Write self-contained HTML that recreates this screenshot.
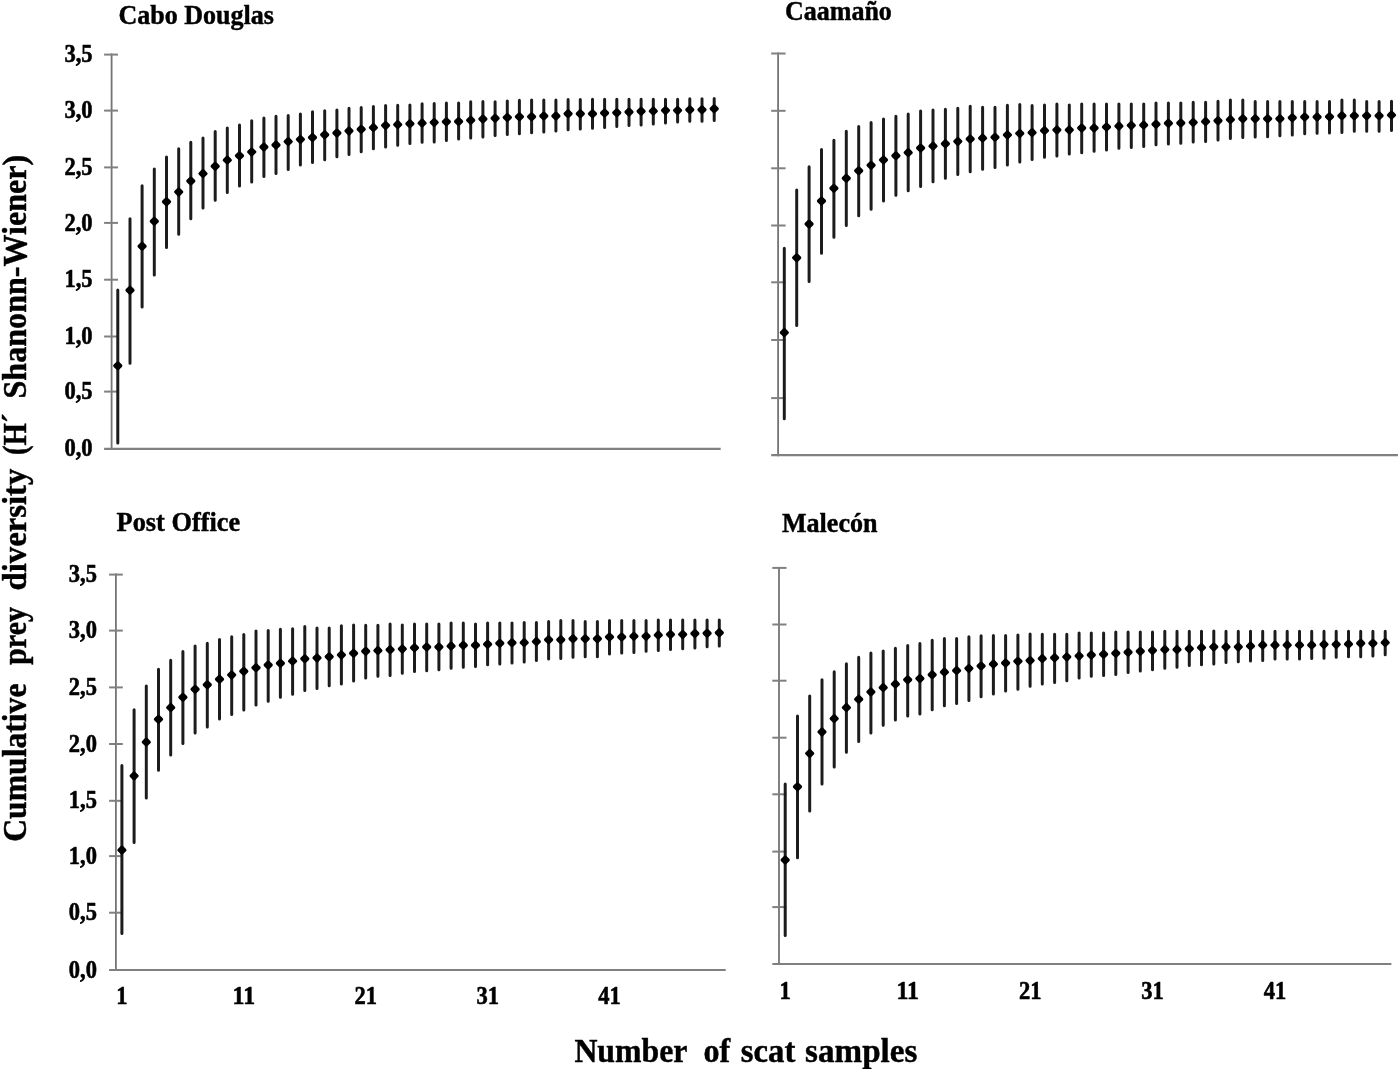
<!DOCTYPE html>
<html><head><meta charset="utf-8"><title>Cumulative prey diversity</title>
<style>
html,body{margin:0;padding:0;background:#fff;}
body{width:1400px;height:1069px;overflow:hidden;}
svg{display:block;}
text{font-family:"Liberation Serif",serif;font-weight:bold;fill:#000;stroke:#000;stroke-width:0.45px;stroke-linejoin:round;}
.tk{font-size:25.2px;stroke-width:0.6px;}
.tt{font-size:27px;}
.at{font-size:34.5px;}
</style></head><body>
<svg width="1400" height="1069" viewBox="0 0 1400 1069">
<defs><filter id="bl" x="-2%" y="-2%" width="104%" height="104%"><feGaussianBlur stdDeviation="0.55"/></filter><filter id="bt" x="-2%" y="-2%" width="104%" height="104%"><feGaussianBlur stdDeviation="0.4"/></filter></defs>
<rect x="0" y="0" width="1400" height="1069" fill="#ffffff"/>

<g filter="url(#bl)">
<line x1="111.6" y1="53.6" x2="111.6" y2="449.8" stroke="#747474" stroke-width="1.8"/>
<line x1="104.1" y1="448.8" x2="720.7" y2="448.8" stroke="#808080" stroke-width="2.2"/>
<line x1="104.1" y1="391.6" x2="118.0" y2="391.6" stroke="#808080" stroke-width="2"/>
<line x1="104.1" y1="336.5" x2="118.0" y2="336.5" stroke="#808080" stroke-width="2"/>
<line x1="104.1" y1="279.7" x2="118.0" y2="279.7" stroke="#808080" stroke-width="2"/>
<line x1="104.1" y1="222.9" x2="118.0" y2="222.9" stroke="#808080" stroke-width="2"/>
<line x1="104.1" y1="167.4" x2="118.0" y2="167.4" stroke="#808080" stroke-width="2"/>
<line x1="104.1" y1="110.6" x2="118.0" y2="110.6" stroke="#808080" stroke-width="2"/>
<line x1="104.1" y1="54.6" x2="118.0" y2="54.6" stroke="#808080" stroke-width="2"/>
<text class="tk" x="64.5" y="456.4" textLength="28.1" lengthAdjust="spacingAndGlyphs">0,0</text>
<text class="tk" x="64.5" y="399.2" textLength="28.1" lengthAdjust="spacingAndGlyphs">0,5</text>
<text class="tk" x="64.5" y="344.1" textLength="28.1" lengthAdjust="spacingAndGlyphs">1,0</text>
<text class="tk" x="64.5" y="287.3" textLength="28.1" lengthAdjust="spacingAndGlyphs">1,5</text>
<text class="tk" x="64.5" y="230.5" textLength="28.1" lengthAdjust="spacingAndGlyphs">2,0</text>
<text class="tk" x="64.5" y="175.0" textLength="28.1" lengthAdjust="spacingAndGlyphs">2,5</text>
<text class="tk" x="64.5" y="118.2" textLength="28.1" lengthAdjust="spacingAndGlyphs">3,0</text>
<text class="tk" x="64.5" y="62.2" textLength="28.1" lengthAdjust="spacingAndGlyphs">3,5</text>
<path d="M117.8 289.9V442.9M130.0 218.7V363.3M142.1 185.8V306.9M154.3 169.0V275.1M166.5 157.0V247.6M178.7 148.8V234.2M190.8 142.3V218.7M203.0 138.0V208.0M215.2 131.6V200.2M227.3 128.1V192.5M239.5 125.1V186.0M251.7 120.8V182.1M263.9 118.0V176.5M276.0 116.3V173.5M288.2 115.4V169.6M300.4 113.9V165.1M312.5 111.8V162.5M324.7 110.7V159.7M336.9 110.1V156.7M349.0 108.2V154.5M361.2 107.5V151.8M373.4 106.4V148.8M385.6 105.5V147.0M397.7 105.3V145.3M409.9 104.9V143.6M422.1 103.8V142.3M434.2 103.6V141.9M446.4 103.0V140.6M458.6 103.0V139.1M470.7 101.7V138.0M482.9 101.4V137.1M495.1 101.7V135.4M507.3 101.0V134.6M519.4 100.2V133.7M531.6 99.9V132.8M543.8 99.9V132.0M555.9 99.9V131.1M568.1 99.4V129.7M580.3 99.4V129.1M592.5 99.2V128.3M604.6 99.3V127.4M616.8 99.3V126.5M629.0 99.3V125.5M641.1 99.3V124.9M653.3 99.3V124.1M665.5 99.3V122.9M677.6 99.3V122.1M689.8 98.7V121.2M702.0 98.7V121.2M714.2 98.4V120.6" stroke="#1f1f1f" stroke-width="3" stroke-linecap="round" fill="none"/>
<path d="M114.9 365.8L117.8 363.0L120.7 365.8L117.8 368.6Z" fill="#000000" stroke="#000000" stroke-width="3.4" stroke-linejoin="round"/>
<path d="M127.1 290.2L130.0 287.4L132.9 290.2L130.0 293.0Z" fill="#000000" stroke="#000000" stroke-width="3.4" stroke-linejoin="round"/>
<path d="M139.2 246.2L142.1 243.4L145.0 246.2L142.1 249.0Z" fill="#000000" stroke="#000000" stroke-width="3.4" stroke-linejoin="round"/>
<path d="M151.4 221.2L154.3 218.4L157.2 221.2L154.3 224.0Z" fill="#000000" stroke="#000000" stroke-width="3.4" stroke-linejoin="round"/>
<path d="M163.6 201.8L166.5 199.0L169.4 201.8L166.5 204.6Z" fill="#000000" stroke="#000000" stroke-width="3.4" stroke-linejoin="round"/>
<path d="M175.8 191.9L178.7 189.1L181.6 191.9L178.7 194.7Z" fill="#000000" stroke="#000000" stroke-width="3.4" stroke-linejoin="round"/>
<path d="M187.9 181.0L190.8 178.2L193.7 181.0L190.8 183.8Z" fill="#000000" stroke="#000000" stroke-width="3.4" stroke-linejoin="round"/>
<path d="M200.1 173.6L203.0 170.8L205.9 173.6L203.0 176.4Z" fill="#000000" stroke="#000000" stroke-width="3.4" stroke-linejoin="round"/>
<path d="M212.3 166.3L215.2 163.5L218.1 166.3L215.2 169.1Z" fill="#000000" stroke="#000000" stroke-width="3.4" stroke-linejoin="round"/>
<path d="M224.4 160.1L227.3 157.3L230.2 160.1L227.3 162.9Z" fill="#000000" stroke="#000000" stroke-width="3.4" stroke-linejoin="round"/>
<path d="M236.6 155.8L239.5 153.0L242.4 155.8L239.5 158.6Z" fill="#000000" stroke="#000000" stroke-width="3.4" stroke-linejoin="round"/>
<path d="M248.8 151.9L251.7 149.1L254.6 151.9L251.7 154.7Z" fill="#000000" stroke="#000000" stroke-width="3.4" stroke-linejoin="round"/>
<path d="M261.0 147.0L263.9 144.2L266.8 147.0L263.9 149.8Z" fill="#000000" stroke="#000000" stroke-width="3.4" stroke-linejoin="round"/>
<path d="M273.1 145.0L276.0 142.2L278.9 145.0L276.0 147.8Z" fill="#000000" stroke="#000000" stroke-width="3.4" stroke-linejoin="round"/>
<path d="M285.3 141.6L288.2 138.8L291.1 141.6L288.2 144.4Z" fill="#000000" stroke="#000000" stroke-width="3.4" stroke-linejoin="round"/>
<path d="M297.5 139.4L300.4 136.6L303.3 139.4L300.4 142.2Z" fill="#000000" stroke="#000000" stroke-width="3.4" stroke-linejoin="round"/>
<path d="M309.6 137.5L312.5 134.7L315.4 137.5L312.5 140.3Z" fill="#000000" stroke="#000000" stroke-width="3.4" stroke-linejoin="round"/>
<path d="M321.8 134.7L324.7 131.9L327.6 134.7L324.7 137.5Z" fill="#000000" stroke="#000000" stroke-width="3.4" stroke-linejoin="round"/>
<path d="M334.0 133.0L336.9 130.2L339.8 133.0L336.9 135.8Z" fill="#000000" stroke="#000000" stroke-width="3.4" stroke-linejoin="round"/>
<path d="M346.1 130.9L349.0 128.1L351.9 130.9L349.0 133.7Z" fill="#000000" stroke="#000000" stroke-width="3.4" stroke-linejoin="round"/>
<path d="M358.3 129.3L361.2 126.5L364.1 129.3L361.2 132.1Z" fill="#000000" stroke="#000000" stroke-width="3.4" stroke-linejoin="round"/>
<path d="M370.5 127.6L373.4 124.8L376.3 127.6L373.4 130.4Z" fill="#000000" stroke="#000000" stroke-width="3.4" stroke-linejoin="round"/>
<path d="M382.7 125.4L385.6 122.6L388.5 125.4L385.6 128.2Z" fill="#000000" stroke="#000000" stroke-width="3.4" stroke-linejoin="round"/>
<path d="M394.8 124.6L397.7 121.8L400.6 124.6L397.7 127.4Z" fill="#000000" stroke="#000000" stroke-width="3.4" stroke-linejoin="round"/>
<path d="M407.0 123.7L409.9 120.9L412.8 123.7L409.9 126.5Z" fill="#000000" stroke="#000000" stroke-width="3.4" stroke-linejoin="round"/>
<path d="M419.2 123.1L422.1 120.3L425.0 123.1L422.1 125.9Z" fill="#000000" stroke="#000000" stroke-width="3.4" stroke-linejoin="round"/>
<path d="M431.3 122.4L434.2 119.6L437.1 122.4L434.2 125.2Z" fill="#000000" stroke="#000000" stroke-width="3.4" stroke-linejoin="round"/>
<path d="M443.5 121.8L446.4 119.0L449.3 121.8L446.4 124.6Z" fill="#000000" stroke="#000000" stroke-width="3.4" stroke-linejoin="round"/>
<path d="M455.7 121.5L458.6 118.7L461.5 121.5L458.6 124.3Z" fill="#000000" stroke="#000000" stroke-width="3.4" stroke-linejoin="round"/>
<path d="M467.8 120.3L470.7 117.5L473.6 120.3L470.7 123.1Z" fill="#000000" stroke="#000000" stroke-width="3.4" stroke-linejoin="round"/>
<path d="M480.0 119.0L482.9 116.2L485.8 119.0L482.9 121.8Z" fill="#000000" stroke="#000000" stroke-width="3.4" stroke-linejoin="round"/>
<path d="M492.2 118.3L495.1 115.5L498.0 118.3L495.1 121.1Z" fill="#000000" stroke="#000000" stroke-width="3.4" stroke-linejoin="round"/>
<path d="M504.4 117.5L507.3 114.7L510.2 117.5L507.3 120.3Z" fill="#000000" stroke="#000000" stroke-width="3.4" stroke-linejoin="round"/>
<path d="M516.5 116.8L519.4 114.0L522.3 116.8L519.4 119.6Z" fill="#000000" stroke="#000000" stroke-width="3.4" stroke-linejoin="round"/>
<path d="M528.7 116.8L531.6 114.0L534.5 116.8L531.6 119.6Z" fill="#000000" stroke="#000000" stroke-width="3.4" stroke-linejoin="round"/>
<path d="M540.9 116.0L543.8 113.2L546.7 116.0L543.8 118.8Z" fill="#000000" stroke="#000000" stroke-width="3.4" stroke-linejoin="round"/>
<path d="M553.0 116.0L555.9 113.2L558.8 116.0L555.9 118.8Z" fill="#000000" stroke="#000000" stroke-width="3.4" stroke-linejoin="round"/>
<path d="M565.2 113.7L568.1 110.9L571.0 113.7L568.1 116.5Z" fill="#000000" stroke="#000000" stroke-width="3.4" stroke-linejoin="round"/>
<path d="M577.4 113.7L580.3 110.9L583.2 113.7L580.3 116.5Z" fill="#000000" stroke="#000000" stroke-width="3.4" stroke-linejoin="round"/>
<path d="M589.6 113.7L592.5 110.9L595.4 113.7L592.5 116.5Z" fill="#000000" stroke="#000000" stroke-width="3.4" stroke-linejoin="round"/>
<path d="M601.7 113.0L604.6 110.2L607.5 113.0L604.6 115.8Z" fill="#000000" stroke="#000000" stroke-width="3.4" stroke-linejoin="round"/>
<path d="M613.9 112.8L616.8 110.0L619.7 112.8L616.8 115.6Z" fill="#000000" stroke="#000000" stroke-width="3.4" stroke-linejoin="round"/>
<path d="M626.1 112.0L629.0 109.2L631.9 112.0L629.0 114.8Z" fill="#000000" stroke="#000000" stroke-width="3.4" stroke-linejoin="round"/>
<path d="M638.2 111.3L641.1 108.5L644.0 111.3L641.1 114.1Z" fill="#000000" stroke="#000000" stroke-width="3.4" stroke-linejoin="round"/>
<path d="M650.4 111.1L653.3 108.3L656.2 111.1L653.3 113.9Z" fill="#000000" stroke="#000000" stroke-width="3.4" stroke-linejoin="round"/>
<path d="M662.6 110.4L665.5 107.6L668.4 110.4L665.5 113.2Z" fill="#000000" stroke="#000000" stroke-width="3.4" stroke-linejoin="round"/>
<path d="M674.7 110.4L677.6 107.6L680.5 110.4L677.6 113.2Z" fill="#000000" stroke="#000000" stroke-width="3.4" stroke-linejoin="round"/>
<path d="M686.9 109.7L689.8 106.9L692.7 109.7L689.8 112.5Z" fill="#000000" stroke="#000000" stroke-width="3.4" stroke-linejoin="round"/>
<path d="M699.1 109.7L702.0 106.9L704.9 109.7L702.0 112.5Z" fill="#000000" stroke="#000000" stroke-width="3.4" stroke-linejoin="round"/>
<path d="M711.3 108.8L714.2 106.0L717.1 108.8L714.2 111.6Z" fill="#000000" stroke="#000000" stroke-width="3.4" stroke-linejoin="round"/>
</g>
<g filter="url(#bl)">
<line x1="778.1" y1="52.5" x2="778.1" y2="456.2" stroke="#747474" stroke-width="1.8"/>
<line x1="771.2" y1="455.2" x2="1397.9" y2="455.2" stroke="#808080" stroke-width="2.2"/>
<line x1="771.2" y1="398.1" x2="785.6" y2="398.1" stroke="#808080" stroke-width="2"/>
<line x1="771.2" y1="340.0" x2="785.6" y2="340.0" stroke="#808080" stroke-width="2"/>
<line x1="771.2" y1="282.3" x2="785.6" y2="282.3" stroke="#808080" stroke-width="2"/>
<line x1="771.2" y1="225.5" x2="785.6" y2="225.5" stroke="#808080" stroke-width="2"/>
<line x1="771.2" y1="168.3" x2="785.6" y2="168.3" stroke="#808080" stroke-width="2"/>
<line x1="771.2" y1="110.8" x2="785.6" y2="110.8" stroke="#808080" stroke-width="2"/>
<line x1="771.2" y1="53.5" x2="785.6" y2="53.5" stroke="#808080" stroke-width="2"/>
<path d="M784.3 248.2V418.8M796.7 190.1V325.4M809.1 166.7V281.5M821.5 149.4V253.3M833.9 140.2V237.2M846.3 131.2V225.6M858.7 126.6V215.7M871.1 122.5V209.2M883.5 119.1V200.9M895.9 116.3V195.3M908.2 113.9V190.7M920.6 110.9V186.4M933.0 109.9V181.7M945.4 109.2V178.3M957.8 108.3V174.4M970.2 106.2V171.8M982.6 107.3V169.2M995.0 107.3V167.5M1007.4 105.3V164.9M1019.8 104.5V161.9M1032.1 105.6V159.6M1044.5 104.9V157.3M1056.9 103.9V155.9M1069.3 104.9V154.0M1081.7 103.9V152.7M1094.1 103.9V151.3M1106.5 103.9V150.1M1118.9 103.9V148.3M1131.3 103.9V147.6M1143.7 103.9V146.4M1156.0 103.1V144.7M1168.4 103.1V144.0M1180.8 103.1V143.3M1193.2 102.3V142.1M1205.6 102.3V141.5M1218.0 101.3V139.9M1230.4 100.1V138.4M1242.8 99.9V137.5M1255.2 101.6V137.0M1267.6 101.6V136.7M1279.9 101.6V135.8M1292.3 101.6V135.0M1304.7 101.6V133.8M1317.1 101.6V133.2M1329.5 101.6V133.0M1341.9 100.1V132.4M1354.3 99.9V131.2M1366.7 101.6V131.2M1379.1 101.6V131.2M1391.5 101.3V130.4" stroke="#1f1f1f" stroke-width="3" stroke-linecap="round" fill="none"/>
<path d="M781.4 332.6L784.3 329.8L787.2 332.6L784.3 335.4Z" fill="#000000" stroke="#000000" stroke-width="3.4" stroke-linejoin="round"/>
<path d="M793.8 257.8L796.7 255.0L799.6 257.8L796.7 260.6Z" fill="#000000" stroke="#000000" stroke-width="3.4" stroke-linejoin="round"/>
<path d="M806.2 224.0L809.1 221.2L812.0 224.0L809.1 226.8Z" fill="#000000" stroke="#000000" stroke-width="3.4" stroke-linejoin="round"/>
<path d="M818.6 201.0L821.5 198.2L824.4 201.0L821.5 203.8Z" fill="#000000" stroke="#000000" stroke-width="3.4" stroke-linejoin="round"/>
<path d="M831.0 188.3L833.9 185.5L836.8 188.3L833.9 191.1Z" fill="#000000" stroke="#000000" stroke-width="3.4" stroke-linejoin="round"/>
<path d="M843.4 178.2L846.3 175.4L849.2 178.2L846.3 181.0Z" fill="#000000" stroke="#000000" stroke-width="3.4" stroke-linejoin="round"/>
<path d="M855.8 170.8L858.7 168.0L861.6 170.8L858.7 173.6Z" fill="#000000" stroke="#000000" stroke-width="3.4" stroke-linejoin="round"/>
<path d="M868.2 165.3L871.1 162.5L874.0 165.3L871.1 168.1Z" fill="#000000" stroke="#000000" stroke-width="3.4" stroke-linejoin="round"/>
<path d="M880.6 159.9L883.5 157.1L886.4 159.9L883.5 162.7Z" fill="#000000" stroke="#000000" stroke-width="3.4" stroke-linejoin="round"/>
<path d="M893.0 155.8L895.9 153.0L898.8 155.8L895.9 158.6Z" fill="#000000" stroke="#000000" stroke-width="3.4" stroke-linejoin="round"/>
<path d="M905.3 152.6L908.2 149.8L911.1 152.6L908.2 155.4Z" fill="#000000" stroke="#000000" stroke-width="3.4" stroke-linejoin="round"/>
<path d="M917.7 148.0L920.6 145.2L923.5 148.0L920.6 150.8Z" fill="#000000" stroke="#000000" stroke-width="3.4" stroke-linejoin="round"/>
<path d="M930.1 146.1L933.0 143.3L935.9 146.1L933.0 148.9Z" fill="#000000" stroke="#000000" stroke-width="3.4" stroke-linejoin="round"/>
<path d="M942.5 143.7L945.4 140.9L948.3 143.7L945.4 146.5Z" fill="#000000" stroke="#000000" stroke-width="3.4" stroke-linejoin="round"/>
<path d="M954.9 141.4L957.8 138.6L960.7 141.4L957.8 144.2Z" fill="#000000" stroke="#000000" stroke-width="3.4" stroke-linejoin="round"/>
<path d="M967.3 139.0L970.2 136.2L973.1 139.0L970.2 141.8Z" fill="#000000" stroke="#000000" stroke-width="3.4" stroke-linejoin="round"/>
<path d="M979.7 138.1L982.6 135.3L985.5 138.1L982.6 140.9Z" fill="#000000" stroke="#000000" stroke-width="3.4" stroke-linejoin="round"/>
<path d="M992.1 137.3L995.0 134.5L997.9 137.3L995.0 140.1Z" fill="#000000" stroke="#000000" stroke-width="3.4" stroke-linejoin="round"/>
<path d="M1004.5 134.9L1007.4 132.1L1010.3 134.9L1007.4 137.7Z" fill="#000000" stroke="#000000" stroke-width="3.4" stroke-linejoin="round"/>
<path d="M1016.9 133.4L1019.8 130.6L1022.7 133.4L1019.8 136.2Z" fill="#000000" stroke="#000000" stroke-width="3.4" stroke-linejoin="round"/>
<path d="M1029.2 132.6L1032.1 129.8L1035.0 132.6L1032.1 135.4Z" fill="#000000" stroke="#000000" stroke-width="3.4" stroke-linejoin="round"/>
<path d="M1041.6 130.6L1044.5 127.8L1047.4 130.6L1044.5 133.4Z" fill="#000000" stroke="#000000" stroke-width="3.4" stroke-linejoin="round"/>
<path d="M1054.0 129.9L1056.9 127.1L1059.8 129.9L1056.9 132.7Z" fill="#000000" stroke="#000000" stroke-width="3.4" stroke-linejoin="round"/>
<path d="M1066.4 129.9L1069.3 127.1L1072.2 129.9L1069.3 132.7Z" fill="#000000" stroke="#000000" stroke-width="3.4" stroke-linejoin="round"/>
<path d="M1078.8 128.0L1081.7 125.2L1084.6 128.0L1081.7 130.8Z" fill="#000000" stroke="#000000" stroke-width="3.4" stroke-linejoin="round"/>
<path d="M1091.2 128.0L1094.1 125.2L1097.0 128.0L1094.1 130.8Z" fill="#000000" stroke="#000000" stroke-width="3.4" stroke-linejoin="round"/>
<path d="M1103.6 127.0L1106.5 124.2L1109.4 127.0L1106.5 129.8Z" fill="#000000" stroke="#000000" stroke-width="3.4" stroke-linejoin="round"/>
<path d="M1116.0 126.1L1118.9 123.3L1121.8 126.1L1118.9 128.9Z" fill="#000000" stroke="#000000" stroke-width="3.4" stroke-linejoin="round"/>
<path d="M1128.4 125.4L1131.3 122.6L1134.2 125.4L1131.3 128.2Z" fill="#000000" stroke="#000000" stroke-width="3.4" stroke-linejoin="round"/>
<path d="M1140.8 125.1L1143.7 122.3L1146.6 125.1L1143.7 127.9Z" fill="#000000" stroke="#000000" stroke-width="3.4" stroke-linejoin="round"/>
<path d="M1153.1 124.3L1156.0 121.5L1158.9 124.3L1156.0 127.1Z" fill="#000000" stroke="#000000" stroke-width="3.4" stroke-linejoin="round"/>
<path d="M1165.5 123.3L1168.4 120.5L1171.3 123.3L1168.4 126.1Z" fill="#000000" stroke="#000000" stroke-width="3.4" stroke-linejoin="round"/>
<path d="M1177.9 123.0L1180.8 120.2L1183.7 123.0L1180.8 125.8Z" fill="#000000" stroke="#000000" stroke-width="3.4" stroke-linejoin="round"/>
<path d="M1190.3 122.4L1193.2 119.6L1196.1 122.4L1193.2 125.2Z" fill="#000000" stroke="#000000" stroke-width="3.4" stroke-linejoin="round"/>
<path d="M1202.7 121.6L1205.6 118.8L1208.5 121.6L1205.6 124.4Z" fill="#000000" stroke="#000000" stroke-width="3.4" stroke-linejoin="round"/>
<path d="M1215.1 120.8L1218.0 118.0L1220.9 120.8L1218.0 123.6Z" fill="#000000" stroke="#000000" stroke-width="3.4" stroke-linejoin="round"/>
<path d="M1227.5 119.6L1230.4 116.8L1233.3 119.6L1230.4 122.4Z" fill="#000000" stroke="#000000" stroke-width="3.4" stroke-linejoin="round"/>
<path d="M1239.9 118.7L1242.8 115.9L1245.7 118.7L1242.8 121.5Z" fill="#000000" stroke="#000000" stroke-width="3.4" stroke-linejoin="round"/>
<path d="M1252.3 118.7L1255.2 115.9L1258.1 118.7L1255.2 121.5Z" fill="#000000" stroke="#000000" stroke-width="3.4" stroke-linejoin="round"/>
<path d="M1264.7 118.7L1267.6 115.9L1270.5 118.7L1267.6 121.5Z" fill="#000000" stroke="#000000" stroke-width="3.4" stroke-linejoin="round"/>
<path d="M1277.0 118.7L1279.9 115.9L1282.8 118.7L1279.9 121.5Z" fill="#000000" stroke="#000000" stroke-width="3.4" stroke-linejoin="round"/>
<path d="M1289.4 117.8L1292.3 115.0L1295.2 117.8L1292.3 120.6Z" fill="#000000" stroke="#000000" stroke-width="3.4" stroke-linejoin="round"/>
<path d="M1301.8 117.0L1304.7 114.2L1307.6 117.0L1304.7 119.8Z" fill="#000000" stroke="#000000" stroke-width="3.4" stroke-linejoin="round"/>
<path d="M1314.2 117.0L1317.1 114.2L1320.0 117.0L1317.1 119.8Z" fill="#000000" stroke="#000000" stroke-width="3.4" stroke-linejoin="round"/>
<path d="M1326.6 116.8L1329.5 114.0L1332.4 116.8L1329.5 119.6Z" fill="#000000" stroke="#000000" stroke-width="3.4" stroke-linejoin="round"/>
<path d="M1339.0 115.8L1341.9 113.0L1344.8 115.8L1341.9 118.6Z" fill="#000000" stroke="#000000" stroke-width="3.4" stroke-linejoin="round"/>
<path d="M1351.4 115.8L1354.3 113.0L1357.2 115.8L1354.3 118.6Z" fill="#000000" stroke="#000000" stroke-width="3.4" stroke-linejoin="round"/>
<path d="M1363.8 115.8L1366.7 113.0L1369.6 115.8L1366.7 118.6Z" fill="#000000" stroke="#000000" stroke-width="3.4" stroke-linejoin="round"/>
<path d="M1376.2 115.8L1379.1 113.0L1382.0 115.8L1379.1 118.6Z" fill="#000000" stroke="#000000" stroke-width="3.4" stroke-linejoin="round"/>
<path d="M1388.6 115.1L1391.5 112.3L1394.4 115.1L1391.5 117.9Z" fill="#000000" stroke="#000000" stroke-width="3.4" stroke-linejoin="round"/>
</g>
<g filter="url(#bl)">
<line x1="115.9" y1="573.6" x2="115.9" y2="971.0" stroke="#747474" stroke-width="1.8"/>
<line x1="109.1" y1="970.0" x2="725.7" y2="970.0" stroke="#808080" stroke-width="2.2"/>
<line x1="109.1" y1="912.7" x2="122.8" y2="912.7" stroke="#808080" stroke-width="2"/>
<line x1="109.1" y1="856.1" x2="122.8" y2="856.1" stroke="#808080" stroke-width="2"/>
<line x1="109.1" y1="800.8" x2="122.8" y2="800.8" stroke="#808080" stroke-width="2"/>
<line x1="109.1" y1="744.0" x2="122.8" y2="744.0" stroke="#808080" stroke-width="2"/>
<line x1="109.1" y1="687.4" x2="122.8" y2="687.4" stroke="#808080" stroke-width="2"/>
<line x1="109.1" y1="630.6" x2="122.8" y2="630.6" stroke="#808080" stroke-width="2"/>
<line x1="109.1" y1="574.6" x2="122.8" y2="574.6" stroke="#808080" stroke-width="2"/>
<text class="tk" x="68.8" y="977.6" textLength="28.1" lengthAdjust="spacingAndGlyphs">0,0</text>
<text class="tk" x="68.8" y="920.3" textLength="28.1" lengthAdjust="spacingAndGlyphs">0,5</text>
<text class="tk" x="68.8" y="863.7" textLength="28.1" lengthAdjust="spacingAndGlyphs">1,0</text>
<text class="tk" x="68.8" y="808.4" textLength="28.1" lengthAdjust="spacingAndGlyphs">1,5</text>
<text class="tk" x="68.8" y="751.6" textLength="28.1" lengthAdjust="spacingAndGlyphs">2,0</text>
<text class="tk" x="68.8" y="695.0" textLength="28.1" lengthAdjust="spacingAndGlyphs">2,5</text>
<text class="tk" x="68.8" y="638.2" textLength="28.1" lengthAdjust="spacingAndGlyphs">3,0</text>
<text class="tk" x="68.8" y="582.2" textLength="28.1" lengthAdjust="spacingAndGlyphs">3,5</text>
<text class="tk" x="116.3" y="1003.8" textLength="11.25" lengthAdjust="spacingAndGlyphs">1</text>
<text class="tk" x="232.6" y="1003.8" textLength="22.5" lengthAdjust="spacingAndGlyphs">11</text>
<text class="tk" x="354.5" y="1003.8" textLength="22.5" lengthAdjust="spacingAndGlyphs">21</text>
<text class="tk" x="476.4" y="1003.8" textLength="22.5" lengthAdjust="spacingAndGlyphs">31</text>
<text class="tk" x="598.3" y="1003.8" textLength="22.5" lengthAdjust="spacingAndGlyphs">41</text>
<path d="M121.9 765.6V933.4M134.1 709.7V842.4M146.3 686.0V797.9M158.5 669.2V770.3M170.7 660.2V755.1M182.9 651.6V743.4M195.1 646.0V733.1M207.3 643.2V727.1M219.5 639.5V719.1M231.7 636.7V714.4M243.8 634.4V710.1M256.0 631.1V705.1M268.2 630.5V701.3M280.4 629.2V697.2M292.6 628.8V694.2M304.8 626.6V690.5M317.0 627.9V688.6M329.2 627.9V685.8M341.4 625.8V684.1M353.6 625.1V681.1M365.7 625.3V677.9M377.9 625.3V676.2M390.1 624.1V675.4M402.3 624.9V673.3M414.5 624.1V671.6M426.7 624.1V670.7M438.9 624.1V669.7M451.1 623.0V668.3M463.3 623.0V667.3M475.5 624.1V666.4M487.6 623.0V664.7M499.8 623.0V664.0M512.0 623.0V663.0M524.2 622.4V662.1M536.4 622.6V660.4M548.6 621.6V659.0M560.8 620.6V658.4M573.0 620.6V657.3M585.2 621.6V656.7M597.4 621.6V656.7M609.5 620.6V654.0M621.7 620.6V653.0M633.9 620.6V652.4M646.1 620.6V651.2M658.3 619.9V650.4M670.5 619.9V649.4M682.7 619.9V648.7M694.9 619.9V648.1M707.1 619.9V646.8M719.3 619.9V646.1" stroke="#1f1f1f" stroke-width="3" stroke-linecap="round" fill="none"/>
<path d="M119.0 850.1L121.9 847.3L124.8 850.1L121.9 852.9Z" fill="#000000" stroke="#000000" stroke-width="3.4" stroke-linejoin="round"/>
<path d="M131.2 775.9L134.1 773.1L137.0 775.9L134.1 778.7Z" fill="#000000" stroke="#000000" stroke-width="3.4" stroke-linejoin="round"/>
<path d="M143.4 742.1L146.3 739.3L149.2 742.1L146.3 744.9Z" fill="#000000" stroke="#000000" stroke-width="3.4" stroke-linejoin="round"/>
<path d="M155.6 719.3L158.5 716.5L161.4 719.3L158.5 722.1Z" fill="#000000" stroke="#000000" stroke-width="3.4" stroke-linejoin="round"/>
<path d="M167.8 707.6L170.7 704.8L173.6 707.6L170.7 710.4Z" fill="#000000" stroke="#000000" stroke-width="3.4" stroke-linejoin="round"/>
<path d="M180.0 697.3L182.9 694.5L185.8 697.3L182.9 700.1Z" fill="#000000" stroke="#000000" stroke-width="3.4" stroke-linejoin="round"/>
<path d="M192.2 689.3L195.1 686.5L198.0 689.3L195.1 692.1Z" fill="#000000" stroke="#000000" stroke-width="3.4" stroke-linejoin="round"/>
<path d="M204.4 684.8L207.3 682.0L210.2 684.8L207.3 687.6Z" fill="#000000" stroke="#000000" stroke-width="3.4" stroke-linejoin="round"/>
<path d="M216.6 679.2L219.5 676.4L222.4 679.2L219.5 682.0Z" fill="#000000" stroke="#000000" stroke-width="3.4" stroke-linejoin="round"/>
<path d="M228.8 674.9L231.7 672.1L234.6 674.9L231.7 677.7Z" fill="#000000" stroke="#000000" stroke-width="3.4" stroke-linejoin="round"/>
<path d="M240.9 671.3L243.8 668.5L246.7 671.3L243.8 674.1Z" fill="#000000" stroke="#000000" stroke-width="3.4" stroke-linejoin="round"/>
<path d="M253.1 667.8L256.0 665.0L258.9 667.8L256.0 670.6Z" fill="#000000" stroke="#000000" stroke-width="3.4" stroke-linejoin="round"/>
<path d="M265.3 665.0L268.2 662.2L271.1 665.0L268.2 667.8Z" fill="#000000" stroke="#000000" stroke-width="3.4" stroke-linejoin="round"/>
<path d="M277.5 663.3L280.4 660.5L283.3 663.3L280.4 666.1Z" fill="#000000" stroke="#000000" stroke-width="3.4" stroke-linejoin="round"/>
<path d="M289.7 661.1L292.6 658.3L295.5 661.1L292.6 663.9Z" fill="#000000" stroke="#000000" stroke-width="3.4" stroke-linejoin="round"/>
<path d="M301.9 658.8L304.8 656.0L307.7 658.8L304.8 661.6Z" fill="#000000" stroke="#000000" stroke-width="3.4" stroke-linejoin="round"/>
<path d="M314.1 657.9L317.0 655.1L319.9 657.9L317.0 660.7Z" fill="#000000" stroke="#000000" stroke-width="3.4" stroke-linejoin="round"/>
<path d="M326.3 656.8L329.2 654.0L332.1 656.8L329.2 659.6Z" fill="#000000" stroke="#000000" stroke-width="3.4" stroke-linejoin="round"/>
<path d="M338.5 654.9L341.4 652.1L344.3 654.9L341.4 657.7Z" fill="#000000" stroke="#000000" stroke-width="3.4" stroke-linejoin="round"/>
<path d="M350.7 653.2L353.6 650.4L356.5 653.2L353.6 656.0Z" fill="#000000" stroke="#000000" stroke-width="3.4" stroke-linejoin="round"/>
<path d="M362.8 651.3L365.7 648.5L368.6 651.3L365.7 654.1Z" fill="#000000" stroke="#000000" stroke-width="3.4" stroke-linejoin="round"/>
<path d="M375.0 650.6L377.9 647.8L380.8 650.6L377.9 653.4Z" fill="#000000" stroke="#000000" stroke-width="3.4" stroke-linejoin="round"/>
<path d="M387.2 649.7L390.1 646.9L393.0 649.7L390.1 652.5Z" fill="#000000" stroke="#000000" stroke-width="3.4" stroke-linejoin="round"/>
<path d="M399.4 648.9L402.3 646.1L405.2 648.9L402.3 651.7Z" fill="#000000" stroke="#000000" stroke-width="3.4" stroke-linejoin="round"/>
<path d="M411.6 647.7L414.5 644.9L417.4 647.7L414.5 650.5Z" fill="#000000" stroke="#000000" stroke-width="3.4" stroke-linejoin="round"/>
<path d="M423.8 647.0L426.7 644.2L429.6 647.0L426.7 649.8Z" fill="#000000" stroke="#000000" stroke-width="3.4" stroke-linejoin="round"/>
<path d="M436.0 647.0L438.9 644.2L441.8 647.0L438.9 649.8Z" fill="#000000" stroke="#000000" stroke-width="3.4" stroke-linejoin="round"/>
<path d="M448.2 646.1L451.1 643.3L454.0 646.1L451.1 648.9Z" fill="#000000" stroke="#000000" stroke-width="3.4" stroke-linejoin="round"/>
<path d="M460.4 645.3L463.3 642.5L466.2 645.3L463.3 648.1Z" fill="#000000" stroke="#000000" stroke-width="3.4" stroke-linejoin="round"/>
<path d="M472.6 645.3L475.5 642.5L478.4 645.3L475.5 648.1Z" fill="#000000" stroke="#000000" stroke-width="3.4" stroke-linejoin="round"/>
<path d="M484.7 644.3L487.6 641.5L490.5 644.3L487.6 647.1Z" fill="#000000" stroke="#000000" stroke-width="3.4" stroke-linejoin="round"/>
<path d="M496.9 643.3L499.8 640.5L502.7 643.3L499.8 646.1Z" fill="#000000" stroke="#000000" stroke-width="3.4" stroke-linejoin="round"/>
<path d="M509.1 642.7L512.0 639.9L514.9 642.7L512.0 645.5Z" fill="#000000" stroke="#000000" stroke-width="3.4" stroke-linejoin="round"/>
<path d="M521.3 642.6L524.2 639.8L527.1 642.6L524.2 645.4Z" fill="#000000" stroke="#000000" stroke-width="3.4" stroke-linejoin="round"/>
<path d="M533.5 641.6L536.4 638.8L539.3 641.6L536.4 644.4Z" fill="#000000" stroke="#000000" stroke-width="3.4" stroke-linejoin="round"/>
<path d="M545.7 639.7L548.6 636.9L551.5 639.7L548.6 642.5Z" fill="#000000" stroke="#000000" stroke-width="3.4" stroke-linejoin="round"/>
<path d="M557.9 639.7L560.8 636.9L563.7 639.7L560.8 642.5Z" fill="#000000" stroke="#000000" stroke-width="3.4" stroke-linejoin="round"/>
<path d="M570.1 638.8L573.0 636.0L575.9 638.8L573.0 641.6Z" fill="#000000" stroke="#000000" stroke-width="3.4" stroke-linejoin="round"/>
<path d="M582.3 638.8L585.2 636.0L588.1 638.8L585.2 641.6Z" fill="#000000" stroke="#000000" stroke-width="3.4" stroke-linejoin="round"/>
<path d="M594.5 638.8L597.4 636.0L600.3 638.8L597.4 641.6Z" fill="#000000" stroke="#000000" stroke-width="3.4" stroke-linejoin="round"/>
<path d="M606.6 637.0L609.5 634.2L612.4 637.0L609.5 639.8Z" fill="#000000" stroke="#000000" stroke-width="3.4" stroke-linejoin="round"/>
<path d="M618.8 637.0L621.7 634.2L624.6 637.0L621.7 639.8Z" fill="#000000" stroke="#000000" stroke-width="3.4" stroke-linejoin="round"/>
<path d="M631.0 636.3L633.9 633.5L636.8 636.3L633.9 639.1Z" fill="#000000" stroke="#000000" stroke-width="3.4" stroke-linejoin="round"/>
<path d="M643.2 636.3L646.1 633.5L649.0 636.3L646.1 639.1Z" fill="#000000" stroke="#000000" stroke-width="3.4" stroke-linejoin="round"/>
<path d="M655.4 635.1L658.3 632.3L661.2 635.1L658.3 637.9Z" fill="#000000" stroke="#000000" stroke-width="3.4" stroke-linejoin="round"/>
<path d="M667.6 634.4L670.5 631.6L673.4 634.4L670.5 637.2Z" fill="#000000" stroke="#000000" stroke-width="3.4" stroke-linejoin="round"/>
<path d="M679.8 634.4L682.7 631.6L685.6 634.4L682.7 637.2Z" fill="#000000" stroke="#000000" stroke-width="3.4" stroke-linejoin="round"/>
<path d="M692.0 633.5L694.9 630.7L697.8 633.5L694.9 636.3Z" fill="#000000" stroke="#000000" stroke-width="3.4" stroke-linejoin="round"/>
<path d="M704.2 633.3L707.1 630.5L710.0 633.3L707.1 636.1Z" fill="#000000" stroke="#000000" stroke-width="3.4" stroke-linejoin="round"/>
<path d="M716.4 632.7L719.3 629.9L722.2 632.7L719.3 635.5Z" fill="#000000" stroke="#000000" stroke-width="3.4" stroke-linejoin="round"/>
</g>
<g filter="url(#bl)">
<line x1="779.0" y1="566.9" x2="779.0" y2="965.0" stroke="#747474" stroke-width="1.8"/>
<line x1="772.3" y1="964.0" x2="1391.4" y2="964.0" stroke="#808080" stroke-width="2.2"/>
<line x1="772.3" y1="907.1" x2="786.5" y2="907.1" stroke="#808080" stroke-width="2"/>
<line x1="772.3" y1="851.6" x2="786.5" y2="851.6" stroke="#808080" stroke-width="2"/>
<line x1="772.3" y1="794.3" x2="786.5" y2="794.3" stroke="#808080" stroke-width="2"/>
<line x1="772.3" y1="737.7" x2="786.5" y2="737.7" stroke="#808080" stroke-width="2"/>
<line x1="772.3" y1="680.7" x2="786.5" y2="680.7" stroke="#808080" stroke-width="2"/>
<line x1="772.3" y1="624.5" x2="786.5" y2="624.5" stroke="#808080" stroke-width="2"/>
<line x1="772.3" y1="567.9" x2="786.5" y2="567.9" stroke="#808080" stroke-width="2"/>
<text class="tk" x="779.6" y="998.8" textLength="11.25" lengthAdjust="spacingAndGlyphs">1</text>
<text class="tk" x="896.4" y="998.8" textLength="22.5" lengthAdjust="spacingAndGlyphs">11</text>
<text class="tk" x="1018.9" y="998.8" textLength="22.5" lengthAdjust="spacingAndGlyphs">21</text>
<text class="tk" x="1141.3" y="998.8" textLength="22.5" lengthAdjust="spacingAndGlyphs">31</text>
<text class="tk" x="1263.7" y="998.8" textLength="22.5" lengthAdjust="spacingAndGlyphs">41</text>
<path d="M785.2 784.1V935.6M797.5 715.9V857.7M809.7 696.1V811.0M822.0 679.7V783.9M834.2 671.8V766.9M846.4 663.8V752.2M858.7 657.3V741.5M870.9 653.0V732.9M883.2 650.9V725.3M895.4 648.3V719.9M907.7 645.5V716.1M919.9 643.6V713.9M932.2 640.3V709.8M944.4 638.4V705.7M956.6 638.4V703.6M968.9 636.7V700.6M981.1 635.8V696.7M993.4 635.4V694.1M1005.6 635.4V691.1M1017.9 635.1V689.2M1030.1 633.9V686.3M1042.3 634.2V684.0M1054.6 634.2V682.6M1066.8 634.2V680.7M1079.1 633.0V677.9M1091.3 633.0V676.2M1103.6 633.0V675.4M1115.8 632.0V674.4M1128.1 632.0V672.6M1140.3 632.0V670.9M1152.5 632.0V669.7M1164.8 631.3V668.3M1177.0 631.3V667.3M1189.3 631.3V665.4M1201.5 631.3V664.8M1213.8 630.9V664.0M1226.0 631.3V662.6M1238.3 631.3V661.8M1250.5 631.3V661.1M1262.7 631.3V660.4M1275.0 631.3V659.0M1287.2 631.3V659.0M1299.5 631.3V659.0M1311.7 631.3V658.5M1324.0 631.3V658.3M1336.2 631.3V657.3M1348.5 631.3V656.8M1360.7 631.3V656.8M1372.9 631.3V656.1M1385.2 631.3V654.7" stroke="#1f1f1f" stroke-width="3" stroke-linecap="round" fill="none"/>
<path d="M782.3 860.0L785.2 857.2L788.1 860.0L785.2 862.8Z" fill="#000000" stroke="#000000" stroke-width="3.4" stroke-linejoin="round"/>
<path d="M794.6 786.8L797.5 784.0L800.4 786.8L797.5 789.6Z" fill="#000000" stroke="#000000" stroke-width="3.4" stroke-linejoin="round"/>
<path d="M806.8 753.4L809.7 750.6L812.6 753.4L809.7 756.2Z" fill="#000000" stroke="#000000" stroke-width="3.4" stroke-linejoin="round"/>
<path d="M819.1 731.9L822.0 729.1L824.9 731.9L822.0 734.7Z" fill="#000000" stroke="#000000" stroke-width="3.4" stroke-linejoin="round"/>
<path d="M831.3 718.6L834.2 715.8L837.1 718.6L834.2 721.4Z" fill="#000000" stroke="#000000" stroke-width="3.4" stroke-linejoin="round"/>
<path d="M843.5 707.6L846.4 704.8L849.3 707.6L846.4 710.4Z" fill="#000000" stroke="#000000" stroke-width="3.4" stroke-linejoin="round"/>
<path d="M855.8 699.2L858.7 696.4L861.6 699.2L858.7 702.0Z" fill="#000000" stroke="#000000" stroke-width="3.4" stroke-linejoin="round"/>
<path d="M868.0 691.9L870.9 689.1L873.8 691.9L870.9 694.7Z" fill="#000000" stroke="#000000" stroke-width="3.4" stroke-linejoin="round"/>
<path d="M880.3 687.6L883.2 684.8L886.1 687.6L883.2 690.4Z" fill="#000000" stroke="#000000" stroke-width="3.4" stroke-linejoin="round"/>
<path d="M892.5 684.1L895.4 681.3L898.3 684.1L895.4 686.9Z" fill="#000000" stroke="#000000" stroke-width="3.4" stroke-linejoin="round"/>
<path d="M904.8 679.8L907.7 677.0L910.6 679.8L907.7 682.6Z" fill="#000000" stroke="#000000" stroke-width="3.4" stroke-linejoin="round"/>
<path d="M917.0 678.5L919.9 675.7L922.8 678.5L919.9 681.3Z" fill="#000000" stroke="#000000" stroke-width="3.4" stroke-linejoin="round"/>
<path d="M929.3 674.7L932.2 671.9L935.1 674.7L932.2 677.5Z" fill="#000000" stroke="#000000" stroke-width="3.4" stroke-linejoin="round"/>
<path d="M941.5 672.1L944.4 669.3L947.3 672.1L944.4 674.9Z" fill="#000000" stroke="#000000" stroke-width="3.4" stroke-linejoin="round"/>
<path d="M953.7 670.6L956.6 667.8L959.5 670.6L956.6 673.4Z" fill="#000000" stroke="#000000" stroke-width="3.4" stroke-linejoin="round"/>
<path d="M966.0 668.4L968.9 665.6L971.8 668.4L968.9 671.2Z" fill="#000000" stroke="#000000" stroke-width="3.4" stroke-linejoin="round"/>
<path d="M978.2 666.0L981.1 663.2L984.0 666.0L981.1 668.8Z" fill="#000000" stroke="#000000" stroke-width="3.4" stroke-linejoin="round"/>
<path d="M990.5 664.1L993.4 661.3L996.3 664.1L993.4 666.9Z" fill="#000000" stroke="#000000" stroke-width="3.4" stroke-linejoin="round"/>
<path d="M1002.7 663.0L1005.6 660.2L1008.5 663.0L1005.6 665.8Z" fill="#000000" stroke="#000000" stroke-width="3.4" stroke-linejoin="round"/>
<path d="M1015.0 661.3L1017.9 658.5L1020.8 661.3L1017.9 664.1Z" fill="#000000" stroke="#000000" stroke-width="3.4" stroke-linejoin="round"/>
<path d="M1027.2 660.5L1030.1 657.7L1033.0 660.5L1030.1 663.3Z" fill="#000000" stroke="#000000" stroke-width="3.4" stroke-linejoin="round"/>
<path d="M1039.4 658.6L1042.3 655.8L1045.2 658.6L1042.3 661.4Z" fill="#000000" stroke="#000000" stroke-width="3.4" stroke-linejoin="round"/>
<path d="M1051.7 657.7L1054.6 654.9L1057.5 657.7L1054.6 660.5Z" fill="#000000" stroke="#000000" stroke-width="3.4" stroke-linejoin="round"/>
<path d="M1063.9 656.9L1066.8 654.1L1069.7 656.9L1066.8 659.7Z" fill="#000000" stroke="#000000" stroke-width="3.4" stroke-linejoin="round"/>
<path d="M1076.2 655.9L1079.1 653.1L1082.0 655.9L1079.1 658.7Z" fill="#000000" stroke="#000000" stroke-width="3.4" stroke-linejoin="round"/>
<path d="M1088.4 655.0L1091.3 652.2L1094.2 655.0L1091.3 657.8Z" fill="#000000" stroke="#000000" stroke-width="3.4" stroke-linejoin="round"/>
<path d="M1100.7 654.2L1103.6 651.4L1106.5 654.2L1103.6 657.0Z" fill="#000000" stroke="#000000" stroke-width="3.4" stroke-linejoin="round"/>
<path d="M1112.9 653.3L1115.8 650.5L1118.7 653.3L1115.8 656.1Z" fill="#000000" stroke="#000000" stroke-width="3.4" stroke-linejoin="round"/>
<path d="M1125.2 652.3L1128.1 649.5L1131.0 652.3L1128.1 655.1Z" fill="#000000" stroke="#000000" stroke-width="3.4" stroke-linejoin="round"/>
<path d="M1137.4 651.3L1140.3 648.5L1143.2 651.3L1140.3 654.1Z" fill="#000000" stroke="#000000" stroke-width="3.4" stroke-linejoin="round"/>
<path d="M1149.6 650.4L1152.5 647.6L1155.4 650.4L1152.5 653.2Z" fill="#000000" stroke="#000000" stroke-width="3.4" stroke-linejoin="round"/>
<path d="M1161.9 649.6L1164.8 646.8L1167.7 649.6L1164.8 652.4Z" fill="#000000" stroke="#000000" stroke-width="3.4" stroke-linejoin="round"/>
<path d="M1174.1 649.6L1177.0 646.8L1179.9 649.6L1177.0 652.4Z" fill="#000000" stroke="#000000" stroke-width="3.4" stroke-linejoin="round"/>
<path d="M1186.4 648.7L1189.3 645.9L1192.2 648.7L1189.3 651.5Z" fill="#000000" stroke="#000000" stroke-width="3.4" stroke-linejoin="round"/>
<path d="M1198.6 647.6L1201.5 644.8L1204.4 647.6L1201.5 650.4Z" fill="#000000" stroke="#000000" stroke-width="3.4" stroke-linejoin="round"/>
<path d="M1210.9 646.9L1213.8 644.1L1216.7 646.9L1213.8 649.7Z" fill="#000000" stroke="#000000" stroke-width="3.4" stroke-linejoin="round"/>
<path d="M1223.1 646.9L1226.0 644.1L1228.9 646.9L1226.0 649.7Z" fill="#000000" stroke="#000000" stroke-width="3.4" stroke-linejoin="round"/>
<path d="M1235.4 646.9L1238.3 644.1L1241.2 646.9L1238.3 649.7Z" fill="#000000" stroke="#000000" stroke-width="3.4" stroke-linejoin="round"/>
<path d="M1247.6 646.1L1250.5 643.3L1253.4 646.1L1250.5 648.9Z" fill="#000000" stroke="#000000" stroke-width="3.4" stroke-linejoin="round"/>
<path d="M1259.8 645.1L1262.7 642.3L1265.6 645.1L1262.7 647.9Z" fill="#000000" stroke="#000000" stroke-width="3.4" stroke-linejoin="round"/>
<path d="M1272.1 645.1L1275.0 642.3L1277.9 645.1L1275.0 647.9Z" fill="#000000" stroke="#000000" stroke-width="3.4" stroke-linejoin="round"/>
<path d="M1284.3 645.1L1287.2 642.3L1290.1 645.1L1287.2 647.9Z" fill="#000000" stroke="#000000" stroke-width="3.4" stroke-linejoin="round"/>
<path d="M1296.6 645.1L1299.5 642.3L1302.4 645.1L1299.5 647.9Z" fill="#000000" stroke="#000000" stroke-width="3.4" stroke-linejoin="round"/>
<path d="M1308.8 645.1L1311.7 642.3L1314.6 645.1L1311.7 647.9Z" fill="#000000" stroke="#000000" stroke-width="3.4" stroke-linejoin="round"/>
<path d="M1321.1 644.4L1324.0 641.6L1326.9 644.4L1324.0 647.2Z" fill="#000000" stroke="#000000" stroke-width="3.4" stroke-linejoin="round"/>
<path d="M1333.3 644.4L1336.2 641.6L1339.1 644.4L1336.2 647.2Z" fill="#000000" stroke="#000000" stroke-width="3.4" stroke-linejoin="round"/>
<path d="M1345.6 644.1L1348.5 641.3L1351.4 644.1L1348.5 646.9Z" fill="#000000" stroke="#000000" stroke-width="3.4" stroke-linejoin="round"/>
<path d="M1357.8 643.3L1360.7 640.5L1363.6 643.3L1360.7 646.1Z" fill="#000000" stroke="#000000" stroke-width="3.4" stroke-linejoin="round"/>
<path d="M1370.0 643.3L1372.9 640.5L1375.8 643.3L1372.9 646.1Z" fill="#000000" stroke="#000000" stroke-width="3.4" stroke-linejoin="round"/>
<path d="M1382.3 642.6L1385.2 639.8L1388.1 642.6L1385.2 645.4Z" fill="#000000" stroke="#000000" stroke-width="3.4" stroke-linejoin="round"/>
</g>
<g filter="url(#bt)">
<text class="tt" x="118.4" y="24.4" textLength="155.5" lengthAdjust="spacingAndGlyphs">Cabo Douglas</text>
<text class="tt" x="784.9" y="19.7" textLength="107.0" lengthAdjust="spacingAndGlyphs">Caamaño</text>
<text class="tt" x="116.6" y="530.9" textLength="123.5" lengthAdjust="spacingAndGlyphs">Post Office</text>
<text class="tt" x="782.0" y="531.7" textLength="95.5" lengthAdjust="spacingAndGlyphs">Malecón</text>
<text class="at" x="574.4" y="1061.8" textLength="113.1" lengthAdjust="spacingAndGlyphs">Number</text>
<text class="at" x="703.4" y="1061.8" textLength="26.7" lengthAdjust="spacingAndGlyphs">of</text>
<text class="at" x="740.8" y="1061.8" textLength="54.5" lengthAdjust="spacingAndGlyphs">scat</text>
<text class="at" x="805.1" y="1061.8" textLength="112.3" lengthAdjust="spacingAndGlyphs">samples</text>
<text class="at" transform="translate(26.2 841.8) rotate(-90)" textLength="158.3" lengthAdjust="spacingAndGlyphs">Cumulative</text>
<text class="at" transform="translate(26.2 664.9) rotate(-90)" textLength="58.0" lengthAdjust="spacingAndGlyphs">prey</text>
<text class="at" transform="translate(26.2 590.6) rotate(-90)" textLength="122.0" lengthAdjust="spacingAndGlyphs">diversity</text>
<text class="at" transform="translate(26.2 455.0) rotate(-90)" textLength="41.6" lengthAdjust="spacingAndGlyphs">(H´</text>
<text class="at" transform="translate(26.2 398.5) rotate(-90)" textLength="243.7" lengthAdjust="spacingAndGlyphs">Shanonn-Wiener)</text>
</g>
</svg></body></html>
